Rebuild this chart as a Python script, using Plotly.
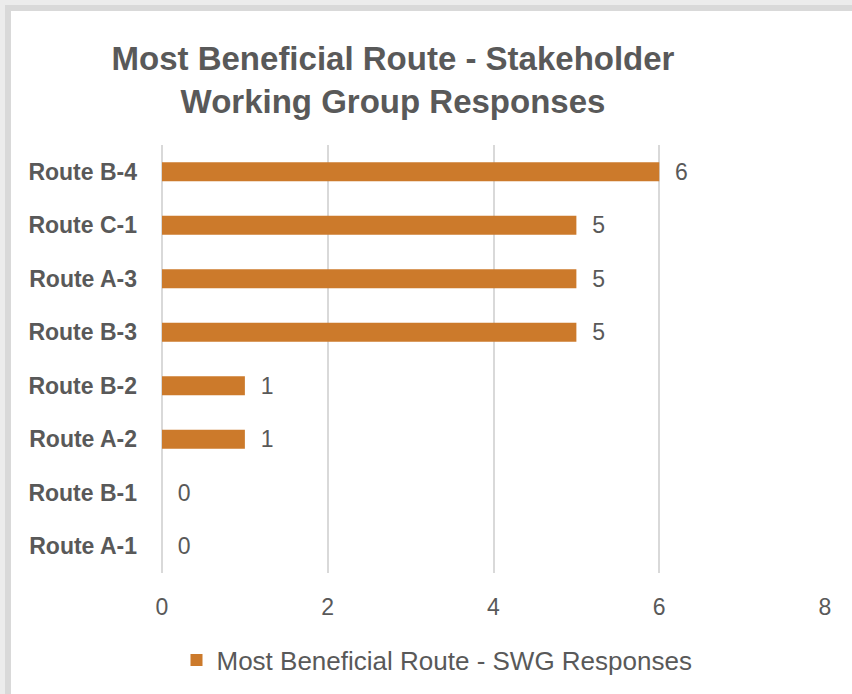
import plotly.graph_objects as go

categories = ["Route B-4", "Route C-1", "Route A-3", "Route B-3",
              "Route B-2", "Route A-2", "Route B-1", "Route A-1"]
values = [6, 5, 5, 5, 1, 1, 0, 0]
x_ticks = [0, 2, 4, 6, 8]
series_name = "Most Beneficial Route - SWG Responses"
title_text = "Most Beneficial Route - Stakeholder<br>Working Group Responses"

TEXT = "#595959"
BAR = "#CC7A2B"
FONT = "Liberation Sans, Arial, sans-serif"

fig = go.Figure()
fig.add_trace(go.Bar(
    x=values, y=categories, orientation="h", name=series_name,
    marker=dict(color=BAR, line=dict(width=0)),
    texttemplate="  %{x}", textposition="outside", cliponaxis=False,
    constraintext="none",
    textfont=dict(family=FONT, size=23, color=TEXT),
    showlegend=True,
))

W, H = 852, 694
ml, mr, mt, mb = 162, 27, 145, 121
pw, ph = W - ml - mr, H - mt - mb

def px_x(p):
    return (p - ml) / pw

def px_y(p):
    return (H - mb - p) / ph

fig.add_shape(type="rect", xref="paper", yref="paper",
              x0=px_x(8), x1=px_x(W + 20), y0=px_y(H + 20), y1=px_y(8),
              fillcolor="white", line=dict(color="#d9d9d9", width=6), layer="below")

fig.update_layout(
    width=W, height=H,
    margin=dict(l=ml, r=mr, t=mt, b=mb),
    paper_bgcolor="#ececec", plot_bgcolor="white",
    bargap=0.645,
    font=dict(family=FONT, color=TEXT),
    title=dict(text=title_text, x=393 / W, xref="container", xanchor="center",
               y=1 - 70 / H, yref="container", yanchor="top",
               font=dict(family=FONT, size=33, color=TEXT, weight="bold")),
    xaxis=dict(range=[0, 8], tickvals=x_ticks, showgrid=True, gridcolor="#d9d9d9",
               gridwidth=1.5, zeroline=True, zerolinecolor="#d9d9d9", zerolinewidth=1.5,
               showline=False, ticks="", tickfont=dict(family=FONT, size=23, color=TEXT),
               ticklabelstandoff=18),
    yaxis=dict(categoryorder="array", categoryarray=categories, autorange="reversed",
               showgrid=False, showline=False, ticks="",
               tickfont=dict(family=FONT, size=23, color=TEXT, weight="bold"),
               ticklabelstandoff=24),
    legend=dict(orientation="h", xref="container", yref="container",
                x=437 / W, xanchor="center", y=1 - 660 / H, yanchor="middle",
                font=dict(family=FONT, size=26, color=TEXT), bgcolor="rgba(0,0,0,0)"),
)

fig.write_html("out.html", config={"displayModeBar": False},
               post_script="document.body.style.margin='0';")
